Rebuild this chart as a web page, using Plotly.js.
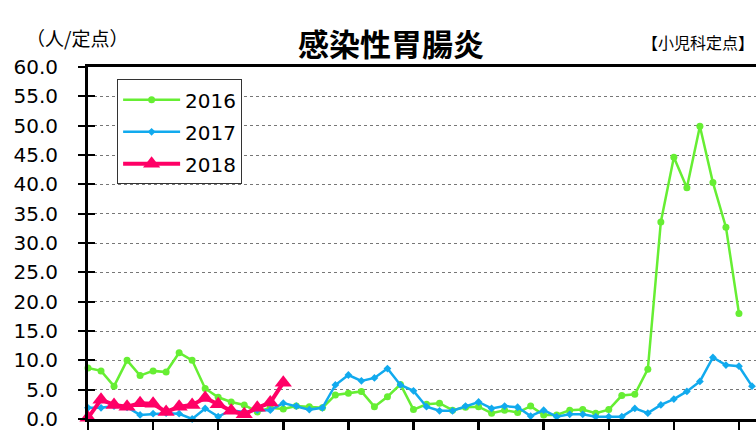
<!DOCTYPE html>
<html>
<head>
<meta charset="utf-8">
<script src="https://cdn.plot.ly/plotly-3.0.1.min.js"></script>
<style>
html,body{margin:0;padding:0;overflow:hidden;background:#fff;width:756px;height:437px;}
#chart{width:800px;height:437px;}
</style>
</head>
<body>
<div id="chart"></div>
<script>
const weeks2016 = [1,2,3,4,5,6,7,8,9,10,11,12,13,14,15,16,17,18,19,20,21,22,23,24,25,26,27,28,29,30,31,32,33,34,35,36,37,38,39,40,41,42,43,44,45,46,47,48,49,50,51];
const values2016 = [8.7,8.2,5.6,10.0,7.4,8.2,8.0,11.3,10.0,5.2,3.7,2.9,2.4,1.2,1.9,1.7,2.2,2.1,1.9,4.1,4.4,4.7,2.1,3.8,5.9,1.6,2.5,2.7,1.5,2.0,2.1,1.0,1.5,1.1,2.2,0.7,0.7,1.5,1.6,1.0,1.6,4.0,4.2,8.5,33.6,44.6,39.4,49.9,40.3,32.7,18.0];
const weeks2017 = [1,2,3,4,5,6,7,8,9,10,11,12,13,14,15,16,17,18,19,20,21,22,23,24,25,26,27,28,29,30,31,32,33,34,35,36,37,38,39,40,41,42,43,44,45,46,47,48,49,50,51,52];
const values2017 = [1.9,1.9,2.2,2.0,0.7,0.9,1.0,0.9,0.0,1.8,0.4,1.5,1.2,1.5,1.5,2.7,2.2,1.6,1.9,5.8,7.5,6.5,7.0,8.6,5.8,4.8,2.1,1.4,1.4,2.2,2.9,1.8,2.2,2.0,0.5,1.5,0.4,0.8,0.8,0.4,0.4,0.4,1.8,1.0,2.4,3.4,4.7,6.4,10.5,9.2,9.0,5.6];
const weeks2018 = [1,2,3,4,5,6,7,8,9,10,11,12,13,14,15,16];
const values2018 = [0.2,3.3,2.4,2.1,2.7,2.6,1.2,2.1,2.4,3.6,2.5,1.4,0.8,1.9,2.8,6.2];
const yTicks = [0,5,10,15,20,25,30,35,40,45,50,55,60];
const yTickText = ["0.0","5.0","10.0","15.0","20.0","25.0","30.0","35.0","40.0","45.0","50.0","55.0","60.0"];

const traces = [
  {x: weeks2016, y: values2016, name: '2016', type: 'scatter', mode: 'lines+markers',
   line: {color: '#66ee33', width: 2.5}, marker: {symbol: 'circle', size: 7, color: '#66ee33'},
   cliponaxis: false, legendgroup: 'a'},
  {x: weeks2017, y: values2017, name: '2017', type: 'scatter', mode: 'lines+markers',
   line: {color: '#11aaee', width: 2.5}, marker: {symbol: 'diamond', size: 6, color: '#11aaee'},
   cliponaxis: false, legendgroup: 'b'},
  {x: weeks2018, y: values2018, name: '2018', type: 'scatter', mode: 'lines+markers',
   line: {color: '#ff0066', width: 4}, marker: {symbol: 'triangle-up', size: 15, color: '#ff0066'},
   cliponaxis: false, legendgroup: 'c'}
];

const layout = {
  width: 800, height: 437,
  margin: {l: 88, r: 35, t: 67, b: 18},
  paper_bgcolor: '#fff', plot_bgcolor: '#fff',
  showlegend: true,
  legend: {x: 0.043, y: 0.965, xanchor: 'left', yanchor: 'top',
    bordercolor: '#333', borderwidth: 1, bgcolor: '#fff',
    font: {family: 'DejaVu Sans, Liberation Sans, sans-serif', size: 20, color: '#000'},
    tracegroupgap: 3, itemwidth: 57},
  xaxis: {range: [1, 53], tick0: 1, dtick: 5, ticks: 'outside', ticklen: 8, tickwidth: 2.5,
    tickcolor: '#000', showticklabels: false, showgrid: false, zeroline: false,
    showline: true, linecolor: '#000', linewidth: 3, mirror: true},
  yaxis: {range: [0, 60], tickvals: yTicks, ticktext: yTickText, ticks: 'outside', ticklen: 7,
    tickwidth: 2, tickcolor: '#000', showgrid: true, gridcolor: '#777', griddash: 'dot', gridwidth: 1,
    zeroline: false, showline: true, linecolor: '#000', linewidth: 3, ticklabelstandoff: 16,
    tickfont: {family: 'DejaVu Sans, Liberation Sans, sans-serif', size: 20, color: '#000'}},
  yaxis2: {range: [0, 60], overlaying: 'y', tickvals: yTicks, ticks: 'inside', ticklen: 7,
    tickwidth: 2, tickcolor: '#000', showticklabels: false, showgrid: false, zeroline: false,
    showline: false},
  annotations: [
    {text: '<b>感染性胃腸炎</b>', xref: 'paper', yref: 'paper', x: (391-88)/677, y: 1, yshift: 25,
     xanchor: 'center', yanchor: 'middle', showarrow: false,
     font: {family: 'Noto Sans CJK JP', size: 31, color: '#000'}},
    {text: '（人/定点）', xref: 'paper', yref: 'paper', x: (24-88)/677, y: 1, yshift: 30,
     xanchor: 'left', yanchor: 'middle', showarrow: false,
     font: {family: 'Noto Sans CJK JP', size: 19, color: '#000'}},
    {text: '【小児科定点】', xref: 'paper', yref: 'paper', x: (640-88)/677, y: 1, yshift: 25,
     xanchor: 'left', yanchor: 'middle', showarrow: false,
     font: {family: 'Noto Sans CJK JP', size: 16, color: '#000'}}
  ]
};
traces.push({x: [1], y: [0], yaxis: 'y2', type: 'scatter', mode: 'markers', marker: {opacity: 0}, showlegend: false, hoverinfo: 'skip'});

Plotly.newPlot('chart', traces, layout, {staticPlot: true});
</script>
</body>
</html>
